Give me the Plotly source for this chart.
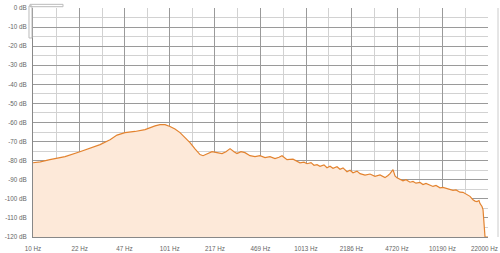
import plotly.graph_objects as go

# Frequency (Hz) and level (dB)
freq_hz = [10, 11.3, 13.3, 17.2, 22.1, 26.2, 31.1, 36.8, 41.4, 47.4, 56.1, 66.5, 72.4, 78.8,
           85.7, 93.3, 101.5, 110.4, 120.2, 130.8, 142.3, 154.9, 168.6, 177.4, 189.8, 206.5,
           224.8, 244.6, 261.7, 280.1, 299.6, 315.2, 337.3, 360.8, 392.7, 427.4, 465.0, 506.2,
           550.8, 599.4, 641.5, 674.8, 734.4, 812.8, 914.9, 979.0, 1030, 1102, 1160, 1220,
           1283, 1373, 1444, 1520, 1599, 1711, 1800, 1894, 2026, 2132, 2243, 2400, 2525, 2748,
           2990, 3253, 3540, 3853, 4054, 4194, 4412, 4564, 4721, 4966, 5224, 5496, 5883, 6185,
           6507, 6965, 7328, 7709, 8251, 8680, 9131, 9768, 10277, 10811, 11570, 12170, 12810,
           13700, 14410, 15160, 16230, 17070, 17660, 18260, 18890, 19220, 19880, 20220, 20570,
           20920, 22000]
level_db = [-81.1, -80.6, -79.5, -77.9, -75.3, -73.6, -71.6, -69.0, -66.6, -65.3, -64.7, -63.7,
            -62.6, -61.8, -61.1, -61.1, -62.1, -63.4, -65.3, -67.8, -70.5, -73.8, -76.8, -77.4,
            -76.3, -75.3, -75.8, -76.3, -75.3, -73.7, -75.3, -76.3, -75.3, -75.8, -77.4, -77.9,
            -77.4, -78.4, -77.9, -78.9, -78.2, -77.4, -79.5, -79.2, -81.1, -80.8, -81.6, -81.0,
            -82.4, -82.1, -83.0, -82.2, -83.7, -82.9, -84.0, -83.2, -84.5, -83.8, -85.8, -85.0,
            -86.3, -85.5, -86.8, -87.6, -87.0, -88.2, -87.5, -88.9, -87.8, -86.8, -84.7, -88.0,
            -89.0, -90.0, -90.6, -90.0, -91.3, -90.9, -91.8, -91.4, -92.5, -91.9, -93.0, -93.5,
            -93.0, -94.2, -94.0, -94.6, -95.2, -95.6, -95.3, -96.5, -96.6, -97.5, -98.7, -100.5,
            -101.2, -101.4, -100.9, -102.5, -104.0, -105.6, -115.0, -120.0, -120.0]

x_tick_vals = [10, 22, 47, 101, 217, 469, 1013, 2186, 4720, 10190, 22000]
x_tick_text = ["10 Hz", "22 Hz", "47 Hz", "101 Hz", "217 Hz", "469 Hz", "1013 Hz",
               "2186 Hz", "4720 Hz", "10190 Hz", "22000 Hz"]
x_minor_vals = [14.8, 32.2, 68.9, 148, 319, 689, 1488, 3212, 6935, 14973]
y_tick_vals = list(range(0, -121, -10))
y_tick_text = [f"{v} dB" for v in y_tick_vals]

# the last label is drawn as an annotation, right-aligned so it stays inside the page
x_tick_disp = x_tick_text[:-1] + [""]

fig = go.Figure()
fig.add_trace(go.Scatter(x=[freq_hz[0], freq_hz[-1]], y=[-120, -120], mode="lines",
                         line=dict(width=0, color="rgba(0,0,0,0)"), hoverinfo="skip",
                         showlegend=False))
fig.add_trace(go.Scatter(x=freq_hz, y=level_db, mode="lines", fill="tonexty",
                         fillcolor="#fde9d9", line=dict(color="#e3832f", width=1.2),
                         showlegend=False))

grid_major = "#9a9a9a"
grid_minor = "#d2d2d2"
tick_font = dict(size=6.3, color="#666", family="Liberation Sans")
fig.update_xaxes(type="log", range=[0.99999, 4.34245], tickvals=x_tick_vals, ticktext=x_tick_disp,
                 showgrid=True, gridcolor=grid_major, gridwidth=1,
                 minor=dict(tickvals=x_minor_vals, showgrid=True, gridcolor=grid_minor,
                            gridwidth=1, ticks=""),
                 showline=True, linecolor="#888", mirror=False, zeroline=False, ticks="",
                 tickfont=tick_font, ticklabelstandoff=5, automargin=False,
                 ticklabeloverflow="allow")
fig.update_yaxes(range=[-120, 0], tickvals=y_tick_vals, ticktext=y_tick_text,
                 showgrid=True, gridcolor=grid_major, gridwidth=1,
                 minor=dict(dtick=5, tick0=0, showgrid=True, gridcolor=grid_minor, gridwidth=1,
                            ticks=""),
                 showline=True, linecolor="#888", zeroline=False, ticks="",
                 tickfont=tick_font, ticklabelstandoff=4, automargin=False,
                 ticklabeloverflow="allow")

fig.add_annotation(text=x_tick_text[-1], xref="paper", yref="paper", x=1, y=0,
                   xanchor="right", yanchor="top", xshift=11, yshift=-7,
                   showarrow=False, font=tick_font, borderpad=0)

shapes = [
    dict(type="rect", xref="paper", yref="paper", x0=-0.0066, x1=0.066, y0=1.0057, y1=1.016,
         line=dict(color="#bbbbbb", width=1), fillcolor="rgba(0,0,0,0)"),
    dict(type="rect", xref="paper", yref="paper", x0=-0.0088, x1=-0.0022, y0=0.869, y1=1.009,
         line=dict(color="#bbbbbb", width=1), fillcolor="rgba(0,0,0,0)"),
    dict(type="line", xref="paper", yref="paper", x0=1.022, x1=1.022, y0=0, y1=1,
         line=dict(color="#cccccc", width=1)),
]

fig.update_layout(width=500, height=253, margin=dict(l=33, r=12, t=8, b=16, autoexpand=False),
                  plot_bgcolor="white", paper_bgcolor="white", shapes=shapes,
                  font=dict(family="Liberation Sans", size=6.3, color="#666"))

fig.write_html("out.html")
